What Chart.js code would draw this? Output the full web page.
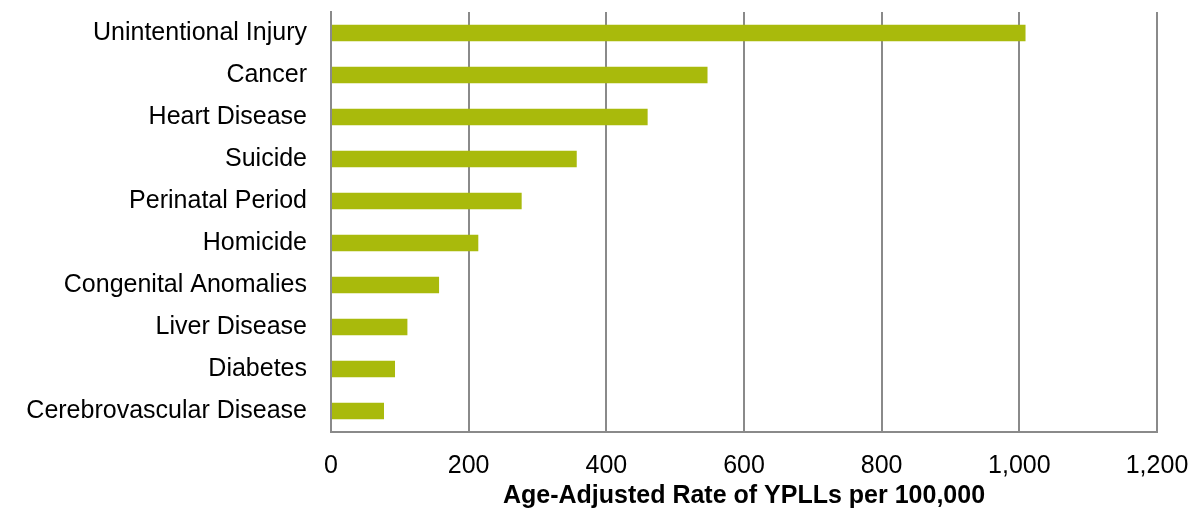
<!DOCTYPE html>
<html>
<head>
<meta charset="utf-8">
<script src="https://cdn.jsdelivr.net/npm/chart.js@4/dist/chart.umd.min.js"></script>
<style>
  html, body { margin: 0; padding: 0; background: #ffffff; }
  #wrap { width: 1192px; height: 516px; position: relative; }
</style>
</head>
<body>
<div id="wrap"><canvas id="c" width="1192" height="516"></canvas></div>
<script>
const categories = [
  "Unintentional Injury",
  "Cancer",
  "Heart Disease",
  "Suicide",
  "Perinatal Period",
  "Homicide",
  "Congenital Anomalies",
  "Liver Disease",
  "Diabetes",
  "Cerebrovascular Disease"
];
const yplls = [1009, 547, 460, 357, 277, 214, 157, 111, 93, 77];
const xTicks = [0, 200, 400, 600, 800, 1000, 1200];
const axisTitle = "Age-Adjusted Rate of YPLLs per 100,000";

const FONT = "'Liberation Sans', Arial, sans-serif";
const GRID = "#8a8a8a";

new Chart(document.getElementById("c"), {
  type: "bar",
  data: {
    labels: categories,
    datasets: [{
      data: yplls,
      backgroundColor: "#a9ba0c",
      borderWidth: 0,
      categoryPercentage: 1.0,
      barPercentage: 0.39
    }]
  },
  options: {
    indexAxis: "y",
    responsive: false,
    animation: false,
    devicePixelRatio: 1,
    layout: { padding: { top: 12, right: 35, bottom: 0, left: 0 } },
    plugins: {
      legend: { display: false },
      tooltip: { enabled: false },
      title: { display: false }
    },
    scales: {
      x: {
        type: "linear",
        min: xTicks[0],
        max: xTicks[xTicks.length - 1],
        afterBuildTicks: (scale) => { scale.ticks = xTicks.map(v => ({ value: v })); },
        afterFit: (scale) => {
          scale.height = 84;
          scale.paddingLeft = 0; scale.paddingRight = 0;
        },
        grid: { display: true, color: GRID, lineWidth: 2, drawTicks: false },
        border: { display: true, color: GRID, width: 2 },
        ticks: {
          padding: 19,
          color: "#000000",
          font: { family: FONT, size: 25 },
          maxRotation: 0,
          callback: (v) => Number(v).toLocaleString("en-US")
        },
        title: {
          display: true,
          text: axisTitle,
          color: "#000000",
          font: { family: FONT, size: 25, weight: "bold" },
          padding: { top: 0, bottom: 5 }
        }
      },
      y: {
        type: "category",
        afterFit: (scale) => {
          scale.width = 331;
          scale.paddingTop = 0; scale.paddingBottom = 0;
        },
        grid: { display: false, drawTicks: false },
        border: { display: true, color: GRID, width: 2 },
        ticks: {
          padding: 24,
          color: "#000000",
          font: { family: FONT, size: 25 },
          autoSkip: false
        }
      }
    }
  }
});
</script>
</body>
</html>
